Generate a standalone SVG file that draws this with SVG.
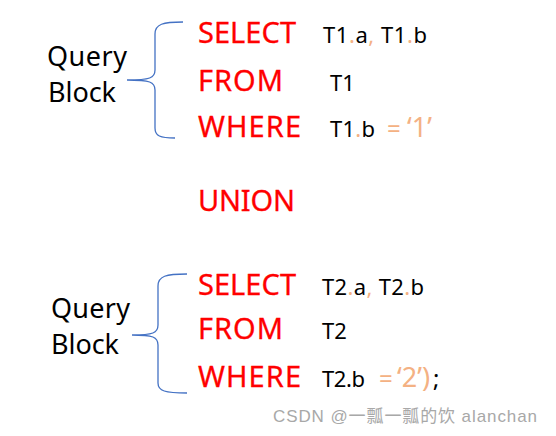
<svg xmlns="http://www.w3.org/2000/svg" width="556" height="436" viewBox="0 0 556 436">
<style>
.kw{font-family:"Noto Sans","Liberation Sans",sans-serif;font-size:29px;fill:#FF0000;stroke:#FF0000;stroke-width:0.3}
.lbl{font-family:"Noto Sans","Liberation Sans",sans-serif;font-size:27px;fill:#000}
.code{font-family:"Noto Sans","Liberation Sans",sans-serif;font-size:22px;fill:#000}
.big{font-size:24px}
.q{font-size:27px}
.o{fill:#F4B183}
.brace{fill:none;stroke:#4472C4;stroke-width:1.3}
.wm{font-family:"Liberation Sans","Noto Sans CJK SC",sans-serif;font-size:17px;fill:#a8a8a8}
</style>
<rect width="556" height="436" fill="#fff"/>
<g id="connectors">
<path class="brace" d="M183,22 C163,22 155,24 155,34 L155,70 C155,78 150,80 127,80 C150,80 155,82 155,90 L155,128 C155,136 160,138 175,138"/>
<path class="brace" d="M187,274 C166,274 158,276 158,286 L158,325 C158,333 153,335 132,335 C153,335 158,337 158,345 L158,383 C158,391 165,393 187,393"/>
</g>
<g id="block1">
<text class="lbl" x="47" y="66" textLength="80">Query</text>
<text class="lbl" x="48" y="102" textLength="68">Block</text>
</g>
<g id="select1">
<text class="kw" x="198" y="43" textLength="98">SELECT</text>
<text class="code" x="323" y="43" textLength="104">T1<tspan class="o">.</tspan>a<tspan class="o">,</tspan> T1<tspan class="o">.</tspan>b</text>
</g>
<g id="from1">
<text class="kw" x="198" y="91" textLength="85">FROM</text>
<text class="code" x="330" y="91">T1</text>
</g>
<g id="where1">
<text class="kw" x="198" y="137" textLength="103">WHERE</text>
<text class="code" x="330" y="137" textLength="45">T1<tspan class="o">.</tspan>b</text>
<text class="code big o" x="387" y="137">=</text>
<text class="code q o" x="407" y="137">‘1’</text>
</g>
<g id="union">
<text class="kw" x="198" y="211" textLength="97">UNION</text>
</g>
<g id="block2">
<text class="lbl" x="51" y="318" textLength="79">Query</text>
<text class="lbl" x="51" y="354" textLength="68">Block</text>
</g>
<g id="select2">
<text class="kw" x="198" y="295" textLength="98">SELECT</text>
<text class="code" x="322" y="295" textLength="102">T2<tspan class="o">.</tspan>a<tspan class="o">,</tspan> T2<tspan class="o">.</tspan>b</text>
</g>
<g id="from2">
<text class="kw" x="198" y="339" textLength="85">FROM</text>
<text class="code" x="322" y="339">T2</text>
</g>
<g id="where2">
<text class="kw" x="198" y="387" textLength="103">WHERE</text>
<text class="code" x="322" y="387" textLength="43">T2.b</text>
<text class="code big o" x="379" y="387">=</text>
<text class="code q o" x="397" y="387">‘2’)</text>
<text class="code big" x="433" y="387">;</text>
</g>
<text class="wm" x="273" y="422" textLength="264">CSDN @一瓢一瓢的饮 alanchan</text>
</svg>
